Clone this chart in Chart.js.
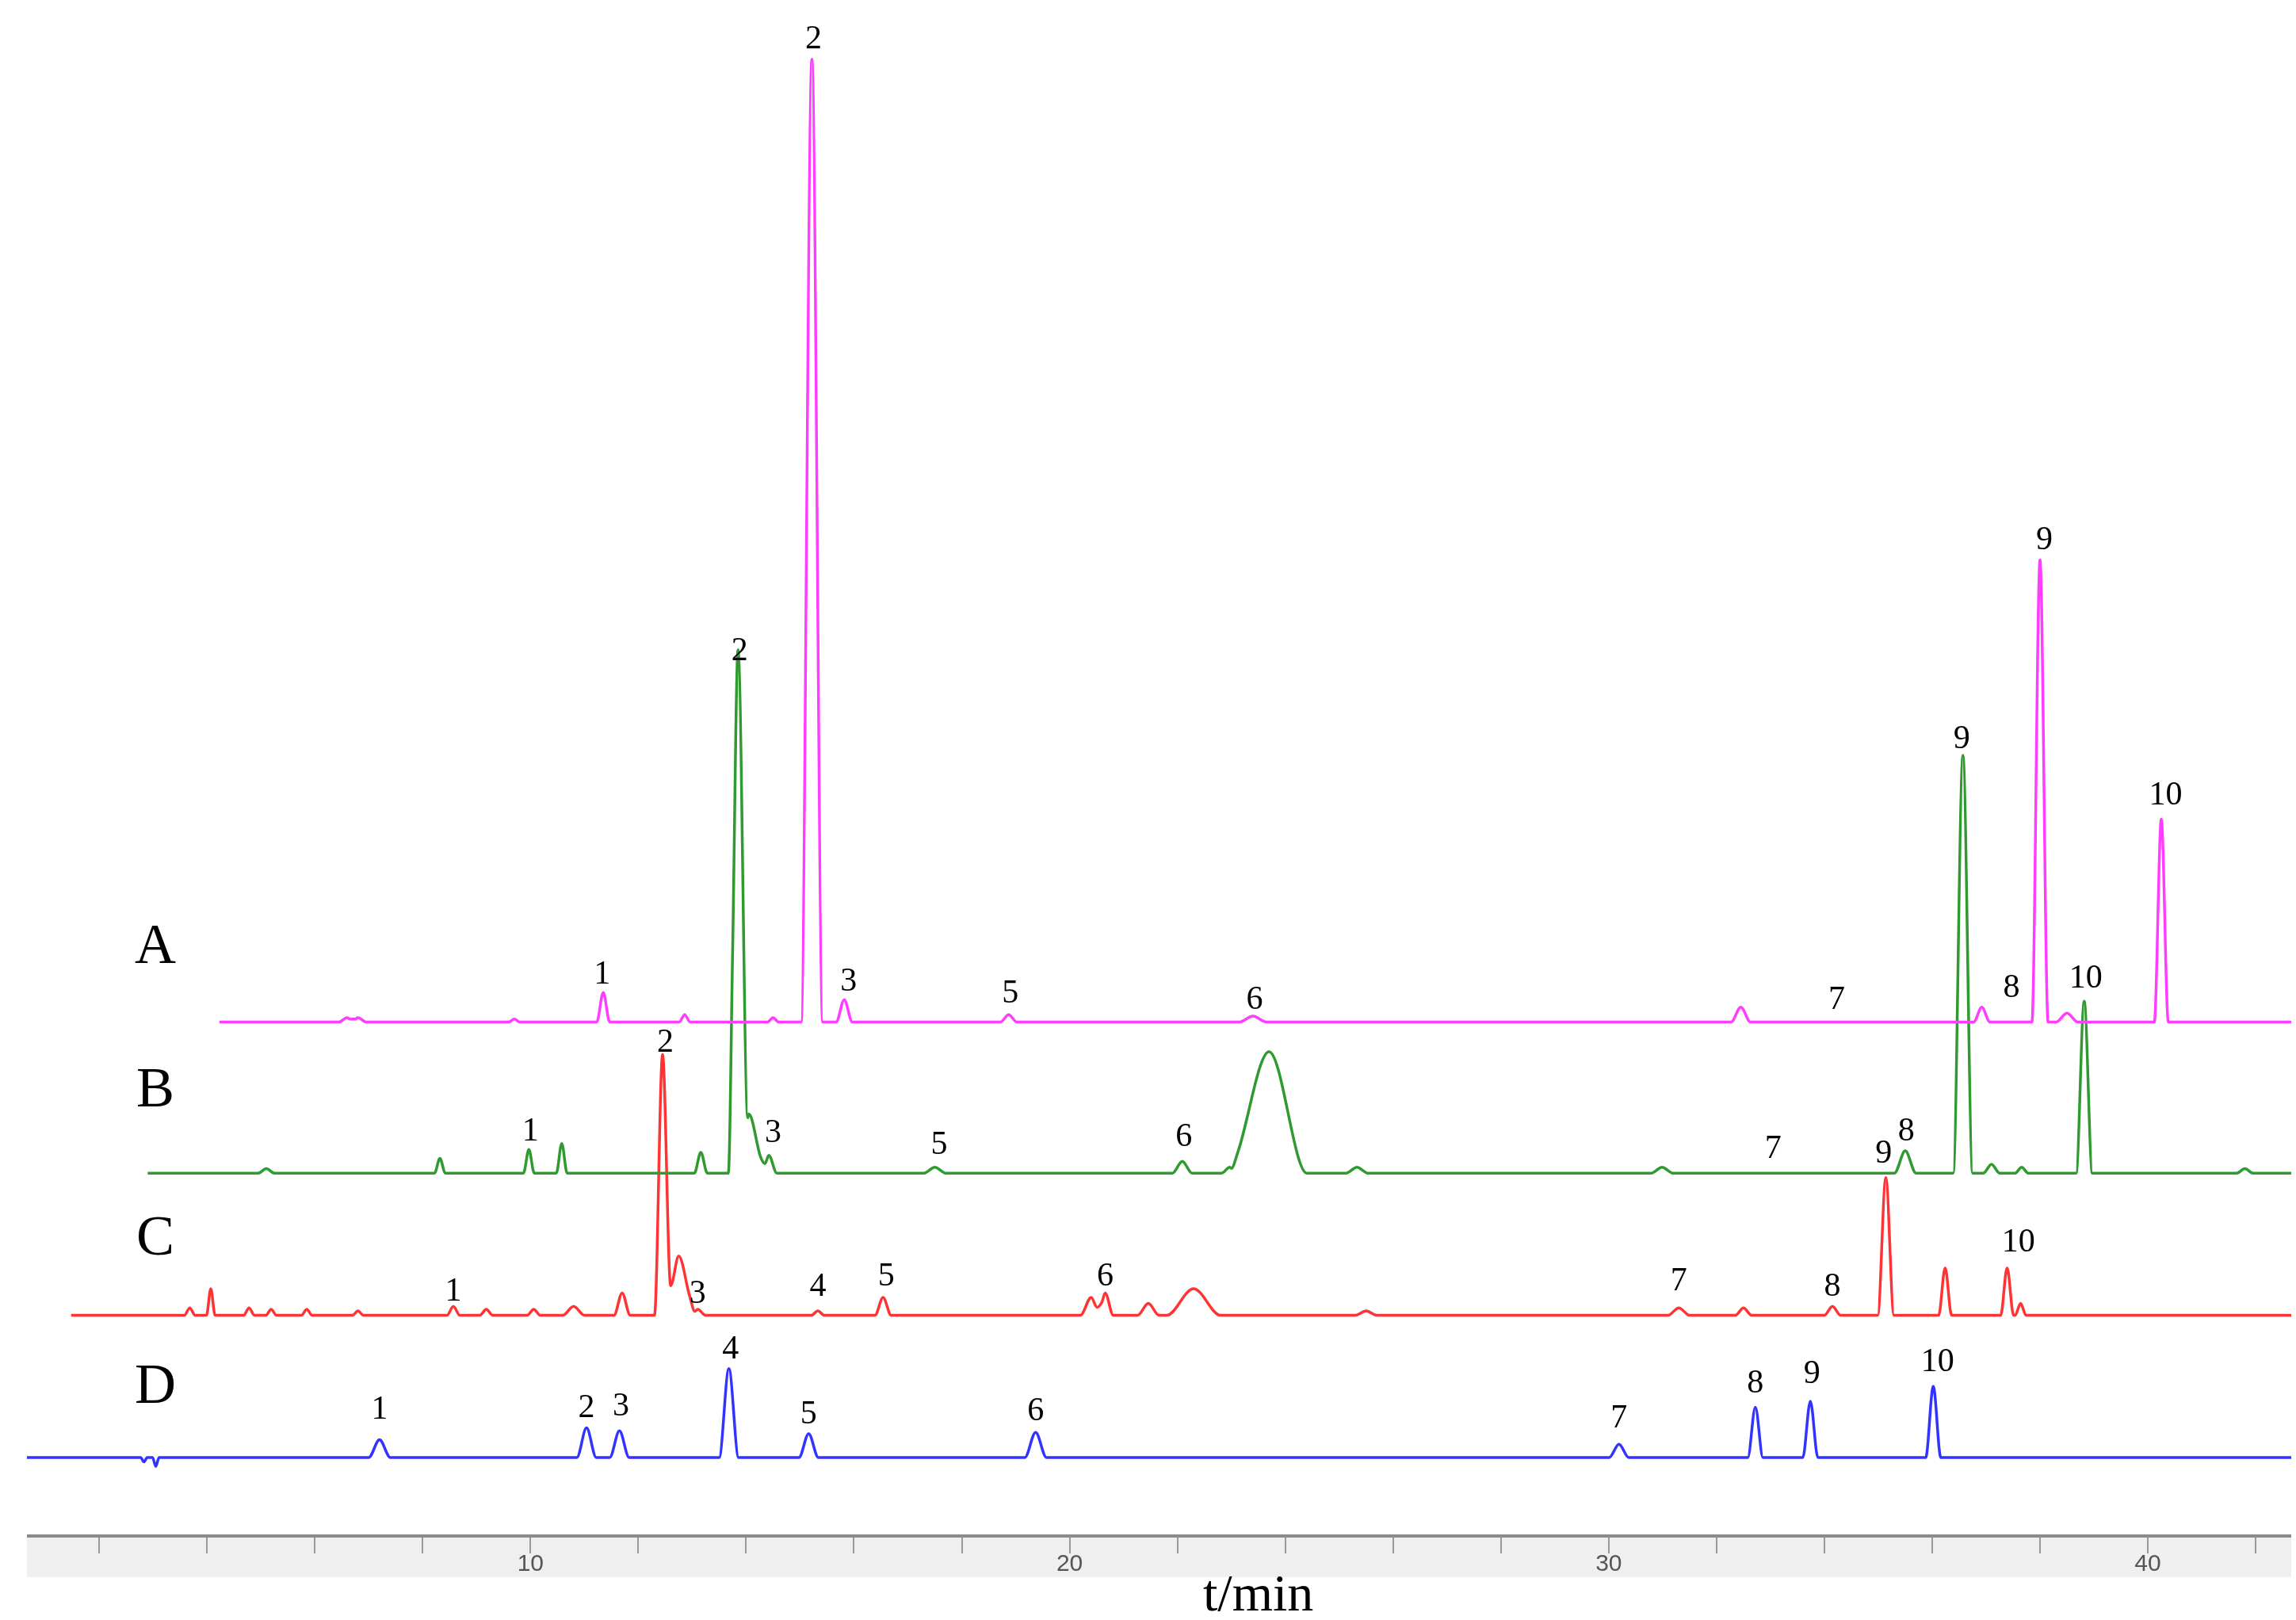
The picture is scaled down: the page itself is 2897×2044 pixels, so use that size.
<!DOCTYPE html>
<html><head><meta charset="utf-8">
<script src="https://cdn.jsdelivr.net/npm/chart.js@4"></script>
<style>html,body{margin:0;padding:0;background:#fff}#c{display:block}</style>
</head><body><canvas id="c" width="2897" height="2044"></canvas>
<script>
// retention times (min), peak heights (signal units above trace baseline), half widths (min)
const rangeA=[4.23,42.66];
const tA=[6.6,6.8,9.7,11.35,12.86,14.5,15.22,15.82,18.87,23.4,32.45,36.92,38.0,38.5,40.25];
const hA=[3,3,2,20,5,3,650,15,5,4,10,10,312,6,137];
const wA=[0.15,0.15,0.1,0.12,0.1,0.1,0.2,0.15,0.15,0.25,0.18,0.15,0.15,0.2,0.13];
const rangeB=[2.9,42.66];
const tB=[5.1,8.32,9.97,10.58,13.16,13.85,14.05,14.42,17.5,22.09,22.97,23.7,25.33,30.99,35.5,36.57,37.1,37.66,38.82,41.8];
const hB=[3,10,16,20,14,340,40,12,4,8,4,82,4,4,15,282,6,4,116,3];
const wB=[0.15,0.1,0.1,0.1,0.12,0.18,0.3,0.15,0.2,0.18,0.15,0.7,0.2,0.2,0.2,0.18,0.15,0.12,0.15,0.15];
const rangeC=[1.48,42.66];
const tC=[3.68,4.07,4.78,5.19,5.85,6.8,8.57,9.18,10.06,10.8,11.7,12.45,12.75,13.1,15.33,16.54,20.4,20.66,21.46,22.3,25.5,31.3,32.5,34.15,35.14,36.24,37.39,37.64];
const hC=[5,18,5,4,4,3,6,4,4,6,15,176,40,4,3,12,12,15,8,18,3,5,5,6,93,32,32,8];
const wC=[0.1,0.08,0.1,0.1,0.1,0.1,0.12,0.12,0.12,0.2,0.15,0.15,0.3,0.15,0.12,0.15,0.2,0.15,0.2,0.5,0.2,0.2,0.15,0.15,0.15,0.12,0.12,0.1];
const rangeD=[0.66,42.66];
const tD=[2.83,3.05,7.2,11.04,11.65,13.68,15.16,19.37,30.19,32.72,33.74,36.02];
const hD=[-3,-6,12,20,18,60,16,17,9,34,38,48];
const wD=[0.06,0.06,0.2,0.18,0.18,0.18,0.18,0.2,0.18,0.14,0.14,0.14];
// peak labels: text, time, height above baseline
const labA=["1","2","3","5","6","7","8","9","10"];
const labTA=[11.33,15.25,15.9,18.9,23.43,34.23,37.47,38.08,40.33];
const labHA=[32,663,27,19,15,15,23,325,153];
const labB=["1","2","3","5","6","7","8","9","10"];
const labTB=[10.0,13.88,14.5,17.58,22.12,33.05,35.52,36.55,38.85];
const labHB=[28,352,27,19,24,16,28,293,131];
const labC=["1","2","3","4","5","6","7","8","9","10"];
const labTC=[8.57,12.5,13.1,15.33,16.6,20.66,31.3,34.15,35.1,37.6];
const labHC=[16,184,14,19,26,26,23,19,109,49];
const labD=["1","2","3","4","5","6","7","8","9","10"];
const labTD=[7.2,11.04,11.68,13.71,15.16,19.37,30.19,32.72,33.77,36.1];
const labHD=[32,33,34,73,29,31,26,50,56,64];
const tickValues=[2,4,6,8,10,12,14,16,18,20,22,24,26,28,30,32,34,36,38,40,42];
const tickLabels=["","","","","10","","","","","20","","","","","30","","","","","40",""];
const names=["A","B","C","D"];
const colors=["#ff3cff","#2f9a2f","#ff3333","#3333ff"];
const baselines=[347,245,149,53];

function trace(range,t,h,w,base){
  let xs=[range[0],range[1]];
  t.forEach((c,i)=>{xs.push(c-w[i],c,c+w[i]);});
  xs=xs.filter(x=>x>=range[0]&&x<=range[1]).sort((a,b)=>a-b);
  return xs.map(x=>{let y=0;t.forEach((c,i)=>{const d=Math.abs(x-c)/w[i];if(d<1)y+=h[i]*(1-d);});return {x:x,y:base+y};});
}
const sets=[[rangeA,tA,hA,wA],[rangeB,tB,hB,wB],[rangeC,tC,hC,wC],[rangeD,tD,hD,wD]];
const labs=[[labA,labTA,labHA],[labB,labTB,labHB],[labC,labTC,labHC],[labD,labTD,labHD]];
const datasets=sets.map((s,i)=>({label:names[i],data:trace(s[0],s[1],s[2],s[3],baselines[i]),borderColor:colors[i],borderWidth:3.5,pointRadius:0,cubicInterpolationMode:'monotone',fill:false}));

const deco={id:'deco',
 beforeDraw(ch){const c=ch.ctx,a=ch.chartArea;c.save();c.fillStyle='#efefef';c.fillRect(a.left,a.bottom,a.right-a.left,52);c.restore();},
 afterDraw(ch){const c=ch.ctx,a=ch.chartArea,xs=ch.scales.x,ys=ch.scales.y;c.save();
  c.strokeStyle='#8a8a8a';c.lineWidth=4;c.beginPath();c.moveTo(a.left,a.bottom);c.lineTo(a.right,a.bottom);c.stroke();
  c.fillStyle='#555';c.textAlign='center';c.textBaseline='middle';
  c.font='30px "Liberation Sans Narrow", "Liberation Sans", sans-serif';
  tickValues.forEach((v,i)=>{if(tickLabels[i])c.fillText(tickLabels[i],xs.getPixelForValue(v),a.bottom+36);});
  c.fillStyle='#000';
  c.font='42px "Liberation Serif", serif';
  labs.forEach((L,i)=>{L[0].forEach((s,j)=>{c.fillText(s,xs.getPixelForValue(L[1][j]),ys.getPixelForValue(baselines[i]+L[2][j]));});});
  c.font='72px "Liberation Serif", serif';
  names.forEach((n,i)=>{c.fillText(n,196,ys.getPixelForValue(baselines[i]+[50,55,51,47][i]));});
  c.font='66px "Liberation Serif", serif';
  c.fillText('t/min',xs.getPixelForValue(23.5),2015);
  c.restore();}
};
new Chart(document.getElementById('c'),{type:'line',data:{datasets},plugins:[deco],
 options:{responsive:false,animation:false,
  layout:{padding:{left:34,right:6,top:0,bottom:0}},
  plugins:{legend:{display:false},tooltip:{enabled:false}},
  scales:{
   x:{type:'linear',min:0.66,max:42.66,
      afterFit(s){s.height=106;},
      afterBuildTicks(s){s.ticks=tickValues.map(v=>({value:v}));},
      border:{display:false},
      grid:{drawOnChartArea:false,drawTicks:true,tickLength:22,color:'#9a9a9a',lineWidth:2},
      ticks:{autoSkip:false,maxRotation:0,padding:0,callback:()=>''}},
   y:{display:false,min:0,max:1037}
  }}});
</script></body></html>
